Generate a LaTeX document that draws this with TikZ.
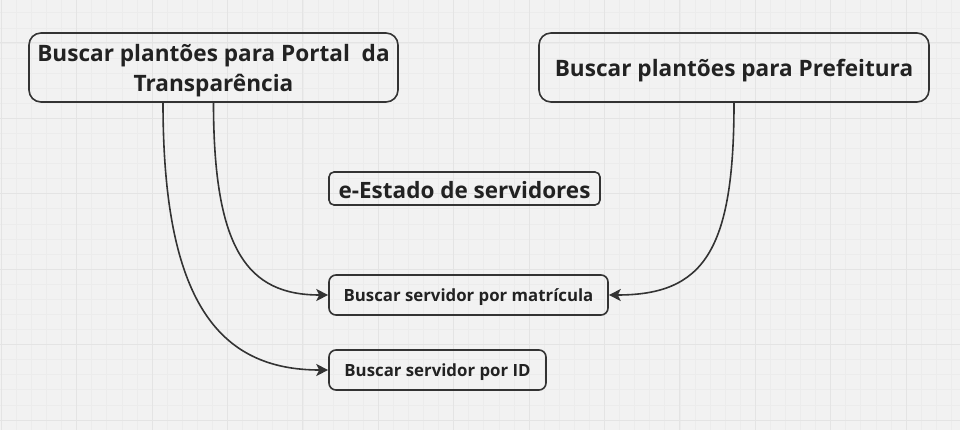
\documentclass[tikz,border=0pt]{standalone}
\usepackage{fontspec}
\setmainfont{Open Sans}
\usetikzlibrary{arrows.meta}
\definecolor{bgc}{RGB}{242,242,242}
\definecolor{minorc}{RGB}{236,236,236}
\definecolor{majorc}{RGB}{228,228,228}
\definecolor{linec}{RGB}{51,51,51}
\definecolor{textc}{RGB}{34,34,34}
\tikzset{
  bigbox/.style={draw=linec, line width=1.6pt, rounded corners=12pt, align=center, text=textc,
    font=\fontsize{22.6}{30.7}\selectfont\bfseries, inner sep=0pt},
  onebig/.style={draw=linec, line width=1.6pt, rounded corners=12pt, text=textc,
    font=\fontsize{22.6}{30.7}\selectfont\bfseries, inner sep=0pt, text height=24pt, text depth=5pt},
  titlebox/.style={draw=linec, line width=1.6pt, rounded corners=5pt, text=textc,
    font=\fontsize{22.5}{26}\selectfont\bfseries, inner sep=0pt, text height=24.5pt, text depth=5pt},
  smallbox/.style={draw=linec, line width=1.6pt, rounded corners=7pt, text=textc,
    font=\fontsize{16.8}{20}\selectfont\bfseries, inner sep=0pt, text height=16pt, text depth=3.5pt},
  conn/.style={draw=linec, line width=1.6pt, -{Stealth[length=12pt,width=12pt,inset=3pt]}}
}
\begin{document}
\begin{tikzpicture}[x=1pt,y=-1pt]
\fill[bgc] (0,0) rectangle (960,430);
\useasboundingbox (0,0) rectangle (960,430);
% minor grid
\foreach \i in {0,...,64} {
  \draw[minorc, line width=0.8pt] ({1.3+15.08*\i},0) -- ({1.3+15.08*\i},430);
}
\foreach \j in {0,...,28} {
  \draw[minorc, line width=0.8pt] (0,{12.84+15.08*\j}) -- (960,{12.84+15.08*\j});
}
% major grid
\foreach \i in {0,...,12} {
  \draw[majorc, line width=1pt] ({1.3+75.4*\i},0) -- ({1.3+75.4*\i},430);
}
\foreach \j in {0,...,5} {
  \draw[majorc, line width=1pt] (0,{43+75.4*\j}) -- (960,{43+75.4*\j});
}
% nodes
\node[bigbox, minimum width=369pt, minimum height=69pt] (portal) at (213.5,67.5)
  {\rule{0pt}{23.5pt}Buscar plantões para Portal~ da\\Transparência};
\node[onebig, minimum width=390pt, minimum height=69pt] (pref) at (734,67.5)
  {Buscar plantões para Prefeitura};
\node[titlebox, minimum width=271pt, minimum height=33pt] (estado) at (464.5,188.5)
  {e-Estado de servidores};
\node[smallbox, minimum width=279pt, minimum height=40pt] (mat) at (468.5,295)
  {Buscar servidor por matrícula};
\node[smallbox, minimum width=217pt, minimum height=40pt] (sid) at (437.5,370)
  {Buscar servidor por ID};
% connectors
\draw[conn] (portal.south) .. controls +(0,148) and +(-80,0) .. (mat.west);
\draw[conn] ([xshift=-50.5pt]portal.south) .. controls +(0,198) and +(-110,0) .. (sid.west);
\draw[conn] (pref.south) .. controls +(0,148) and +(95,0) .. (mat.east);
\end{tikzpicture}
\end{document}
